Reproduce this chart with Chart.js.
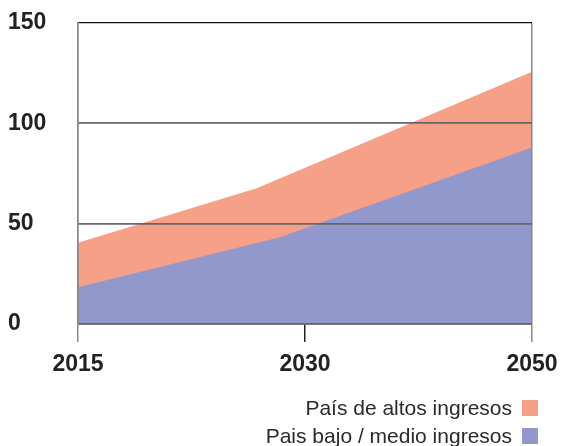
<!DOCTYPE html>
<html>
<head>
<meta charset="utf-8">
<script src="https://cdn.jsdelivr.net/npm/chart.js@4.4.1/dist/chart.umd.min.js"></script>
<style>
  html, body { margin: 0; padding: 0; background: #fff; }
  #wrap { position: relative; width: 561px; height: 446px; }
  #c { position: absolute; left: 0; top: 0; }
  #legend { position: absolute; right: 23px; top: 394px; font-family: "Liberation Sans", Arial, sans-serif; font-size: 21px; color: #2a2a2a; }
  .row { display: flex; align-items: center; justify-content: flex-end; height: 28px; }
  .box { width: 16px; height: 16px; margin-left: 10px; }
</style>
</head>
<body>
<div id="wrap">
  <canvas id="c" width="561" height="446"></canvas>
  <div id="legend"></div>
</div>
<script>
// ---- data ----
const tickLabels = ['2015', '2030', '2050'];
const seriesNames = ['País de altos ingresos', 'Pais bajo / medio ingresos'];
const seriesColors = ['#f6a088', '#9198cb'];
// x positions along the category axis (0 = 2015, 1 = 2030, 2 = 2050)
const highPos = [0, 0.787, 2];
const highVals = [40.5, 67.6, 125.7];
const lowPos = [0, 0.89, 2];
const lowVals = [18.3, 43.2, 87.9];
const yTicks = [0, 50, 100, 150];

const toPts = (xs, ys) => xs.map((x, i) => ({ x: x, y: ys[i] }));
const FONT = '"Liberation Sans", Arial, sans-serif';

new Chart(document.getElementById('c'), {
  type: 'line',
  data: {
    datasets: [
      { label: seriesNames[0], data: toPts(highPos, highVals), backgroundColor: seriesColors[0],
        borderWidth: 0, pointRadius: 0, fill: 'origin', order: 2, tension: 0 },
      { label: seriesNames[1], data: toPts(lowPos, lowVals), backgroundColor: seriesColors[1],
        borderWidth: 0, pointRadius: 0, fill: 'origin', order: 1, tension: 0 }
    ]
  },
  options: {
    responsive: false,
    animation: false,
    layout: { padding: { left: 8, right: 29, top: 23, bottom: 68 } },
    plugins: { legend: { display: false }, tooltip: { enabled: false } },
    scales: {
      x: {
        type: 'linear', min: 0, max: tickLabels.length - 1,
        afterBuildTicks: s => { s.ticks = tickLabels.map((_, i) => ({ value: i })); },
        afterFit: s => { s.height = 54; s.paddingRight = 0; s.paddingLeft = 0; },
        ticks: { callback: v => tickLabels[v], color: '#222', padding: 9,
                 font: { family: FONT, size: 23, weight: 'bold' }, maxRotation: 0, autoSkip: false },
        grid: { z: 1, drawOnChartArea: true, tickLength: 18, lineWidth: 1.5,
                color: c => (c.tick && c.tick.value === 1) ? 'rgba(0,0,0,0)' : '#888',
                tickColor: c => (c.tick && c.tick.value === 1) ? '#222' : '#888' },
        border: { z: 1, display: true, color: '#777', width: 1.5 }
      },
      y: {
        min: 0, max: 150,
        afterBuildTicks: s => { s.ticks = yTicks.map(v => ({ value: v })); },
        afterFit: s => { s.width = 70; },
        ticks: { color: '#222', crossAlign: 'far', padding: 0,
                 font: { family: FONT, size: 23, weight: 'bold' } },
        grid: { z: 1, drawTicks: false, lineWidth: c => (c.tick && c.tick.value === 150) ? 1.2 : 1.8,
                color: c => (c.tick && c.tick.value === 150) ? '#111' : '#666' },
        border: { z: 1, display: true, color: '#888', width: 1.5 }
      }
    }
  }
});

const leg = document.getElementById('legend');
seriesNames.forEach((n, i) => {
  const r = document.createElement('div'); r.className = 'row';
  const t = document.createElement('span'); t.textContent = n;
  const b = document.createElement('span'); b.className = 'box'; b.style.background = seriesColors[i];
  r.appendChild(t); r.appendChild(b); leg.appendChild(r);
});
</script>
</body>
</html>
